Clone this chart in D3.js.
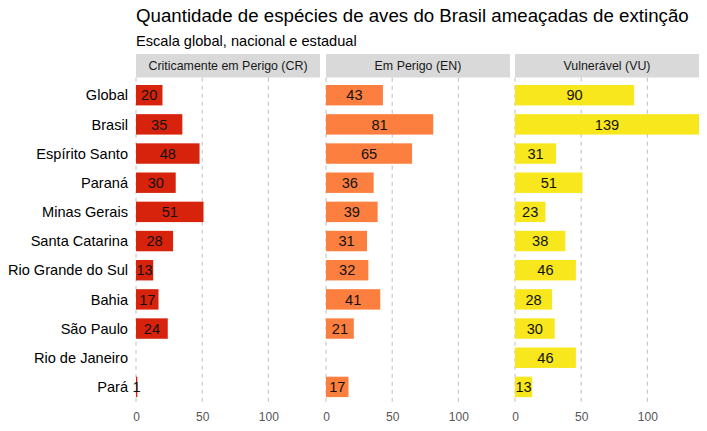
<!DOCTYPE html>
<html><head><meta charset="utf-8">
<script src="https://cdn.jsdelivr.net/npm/d3@7"></script>
<style>body{margin:0;background:#fff}svg{display:block}text{font-family:"Liberation Sans",Arial,sans-serif}</style>
</head><body>
<svg id="c" width="707" height="431"></svg>
<script>
const categories = ["Global","Brasil","Espírito Santo","Paraná","Minas Gerais","Santa Catarina","Rio Grande do Sul","Bahia","São Paulo","Rio de Janeiro","Pará"];
const panels = ["Criticamente em Perigo (CR)","Em Perigo (EN)","Vulnerável (VU)"];
const valuesCR = [20,35,48,30,51,28,13,17,24,null,1];
const valuesEN = [43,81,65,36,39,31,32,41,21,null,17];
const valuesVU = [90,139,31,51,23,38,46,28,30,46,13];
const xTicks = [0,50,100];
const colors = ["#d7230b","#fd7f3f","#f8e71c"];
const series = [valuesCR, valuesEN, valuesVU];

const svg = d3.select("#c");
svg.append("text").attr("x",136).attr("y",22).attr("font-size",18.7).attr("fill","#000")
  .text("Quantidade de espécies de aves do Brasil ameaçadas de extinção");
svg.append("text").attr("x",136).attr("y",46).attr("font-size",14.6).attr("fill","#000")
  .text("Escala global, nacional e estadual");

const panelX = [136,326,515], panelW = 184;
const plotTop = 77.7, plotBottom = 404.4;
const y = d3.scaleBand().domain(categories).range([plotTop,plotBottom]).paddingInner(0.3).paddingOuter(0.25);

categories.forEach(c=>{
  svg.append("text").attr("x",128).attr("y",y(c)+y.bandwidth()/2).attr("dy","0.36em")
    .attr("text-anchor","end").attr("font-size",14.6).attr("fill","#000").text(c);
});

panels.forEach((p,i)=>{
  const x = d3.scaleLinear().domain([0,139]).range([panelX[i],panelX[i]+panelW]);
  const g = svg.append("g");
  g.append("rect").attr("x",panelX[i]).attr("y",54).attr("width",panelW).attr("height",23.5).attr("fill","#d9d9d9");
  g.append("text").attr("x",panelX[i]+panelW/2).attr("y",66).attr("dy","0.36em").attr("text-anchor","middle")
    .attr("font-size",12.4).attr("fill","#1a1a1a").text(p);
  xTicks.forEach(t=>{
    g.append("line").attr("x1",x(t)).attr("x2",x(t)).attr("y1",plotTop).attr("y2",plotBottom)
      .attr("stroke","#bdbdbd").attr("stroke-width",1).attr("stroke-dasharray","4,4");
  });
  const axis = d3.axisBottom(x).tickValues(xTicks).tickSize(0).tickPadding(8);
  const ag = g.append("g").attr("transform",`translate(0,${plotBottom})`).call(axis);
  ag.select(".domain").remove();
  ag.selectAll("text").attr("font-size",12).attr("fill","#555").attr("font-family","Liberation Sans, Arial, sans-serif");
  const data = categories.map((c,j)=>({c,v:series[i][j]})).filter(d=>d.v!=null);
  g.selectAll("rect.bar").data(data).join("rect").attr("class","bar")
    .attr("x",x(0)).attr("y",d=>y(d.c)).attr("width",d=>x(d.v)-x(0)).attr("height",y.bandwidth()).attr("fill",colors[i]);
  g.selectAll("text.lab").data(data).join("text").attr("class","lab")
    .attr("x",d=>x(d.v/2)).attr("y",d=>y(d.c)+y.bandwidth()/2).attr("dy","0.36em").attr("text-anchor","middle")
    .attr("font-size",14.6).attr("fill","#111").text(d=>d.v);
});
</script>
</body></html>
